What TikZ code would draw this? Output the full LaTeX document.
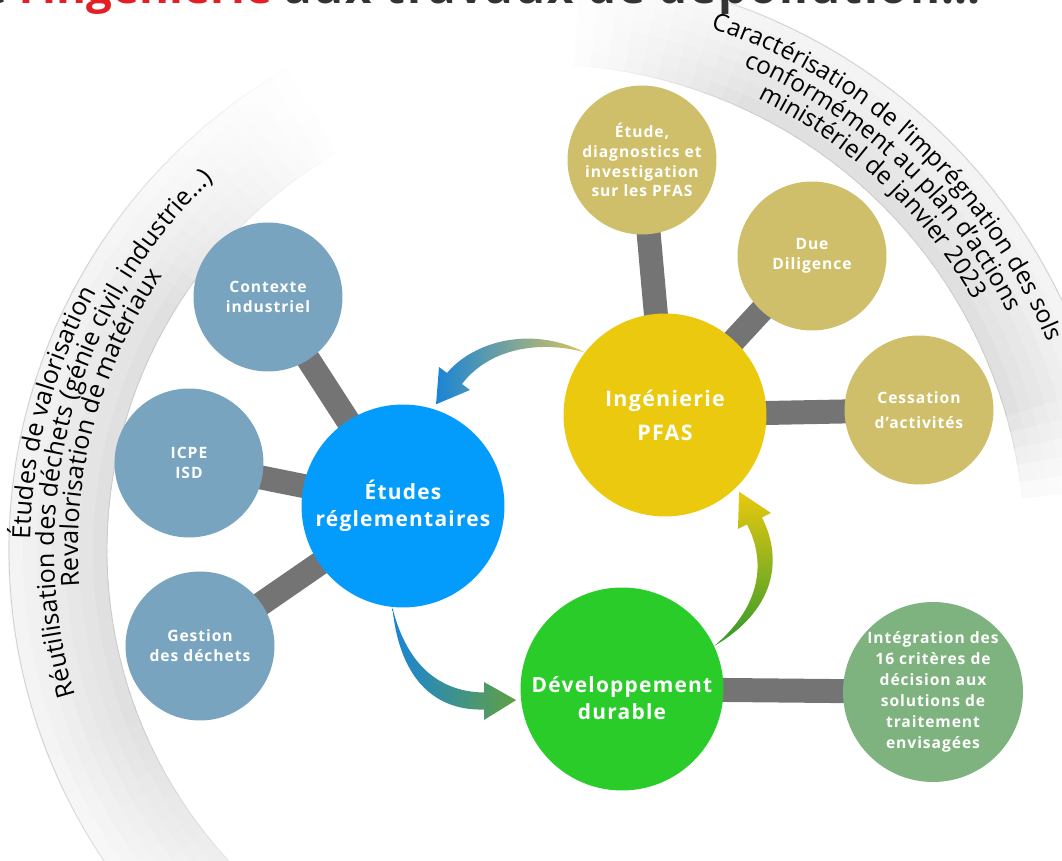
\documentclass[tikz,border=0pt]{standalone}
\usepackage{fontspec}
\setmainfont{Open Sans}
\newfontfamily\nodefont[LetterSpace=6]{Open Sans}
\newfontfamily\titlefont[LetterSpace=4]{Open Sans}
\usetikzlibrary{
    calc,              % Coordinate calculations
    backgrounds,       % Background layers
    decorations.text   % Text along the curved bands
}

\definecolor{bigblue}{RGB}{4,156,252}
\definecolor{bigyellow}{RGB}{235,201,14}
\definecolor{biggreen}{RGB}{42,204,42}
\definecolor{smallblue}{RGB}{120,164,191}
\definecolor{smallgold}{RGB}{208,191,106}
\definecolor{smallgreen}{RGB}{126,178,126}
\definecolor{bargrey}{RGB}{116,116,116}
\definecolor{titlered}{RGB}{227,30,36}
\definecolor{titledark}{RGB}{51,51,51}
\definecolor{arrblue}{RGB}{26,132,214}
\definecolor{arrkhaki}{RGB}{216,196,94}
\definecolor{arrgreen}{RGB}{96,160,68}
\definecolor{arrgreendark}{RGB}{46,154,46}

\newcommand\bandfont{\fontsize{14.3}{16}\selectfont}
\newcommand\bandfontright{\fontsize{13.9}{16}\selectfont}

\begin{document}
\begin{tikzpicture}[x=0.02cm, y=0.02cm,
    bignode/.style={circle, minimum size=4.06cm, inner sep=0pt, align=center,
        text=white, font=\nodefont\bfseries\fontsize{11.9}{15.6}\selectfont},
    smallnode/.style={circle, minimum size=2.98cm, inner sep=0pt, align=center,
        text=white, font=\nodefont\bfseries\fontsize{8.9}{11.3}\selectfont},
    bar/.style={line width=0.48cm, bargrey},
    bandtext/.style={decorate, decoration={text along path, text align=center,
        text={|\bandfont|#1}}},
    rbandtext/.style={decorate, decoration={text along path, text align=center,
        text={|\bandfontright|#1}}}
]
    \useasboundingbox (0,0) rectangle (1062,861);

    \node[anchor=base west, inner sep=0pt, text=titledark,
        font=\bfseries\fontsize{26}{30}\selectfont] (title) at (-54,857)
        {De \textcolor{titlered}{l’ingénierie} {\titlefont aux travaux de dépollution…}};

    \node[bignode, fill=bigblue] (etu) at (403,355) {Études\\réglementaires};
    \node[bignode, fill=bigyellow,
        font=\nodefont\bfseries\fontsize{12.2}{19.3}\selectfont] (ing) at (665,446) {Ingénierie\\PFAS};
    \node[bignode, fill=biggreen, text height=35pt] (dev) at (622,172) {Développement\\durable};

    \node[smallnode, fill=smallblue] (ctx) at (268,564) {Contexte\\industriel};
    \node[smallnode, fill=smallblue] (icpe) at (189,398) {ICPE\\ISD};
    \node[smallnode, fill=smallblue] (gest) at (200,215) {Gestion\\des déchets};
    \node[smallnode, fill=smallgold] (diag) at (642,701) {Étude,\\diagnostics et\\investigation\\sur les PFAS};
    \node[smallnode, fill=smallgold] (due) at (812,605) {Due\\Diligence};
    \node[smallnode, fill=smallgold,
        font=\nodefont\bfseries\fontsize{8.9}{14.2}\selectfont] (cess) at (919,451) {Cessation\\d’activités};
    \node[smallnode, fill=smallgreen, minimum size=3.6cm,
        font=\nodefont\bfseries\fontsize{8.9}{11.9}\selectfont] (integ) at (933,169)
        {Intégration des\\16 critères de\\décision aux\\solutions de\\traitement\\envisagées};

    \coordinate (lc) at (565,311);
    \coordinate (rc) at (540,312);

    \path[bandtext={Études de valorisation}] ($(lc)+(215:535)$) arc[start angle=215, end angle=115, radius=535];
    \path[bandtext={Réutilisation des déchets (génie civil, industrie…)}] ($(lc)+(215:511)$) arc[start angle=215, end angle=115, radius=511];
    \path[bandtext={Revalorisation de matériaux}] ($(lc)+(215:487)$) arc[start angle=215, end angle=115, radius=487];

    \path[rbandtext={Caractérisation de l’imprégnation des sols}] ($(rc)+(95:548)$) arc[start angle=95, end angle=-1, radius=548];
    \path[rbandtext={conformément au plan d’actions}] ($(rc)+(95:524)$) arc[start angle=95, end angle=-1, radius=524];
    \path[rbandtext={ministériel de janvier 2023}] ($(rc)+(95:500)$) arc[start angle=95, end angle=-1, radius=500];

    \coordinate (a1s) at (ing.142);
    \coordinate (a1t) at ($(etu.center)!1.05!(etu.72)$);
    \shade[left color=arrblue, right color=arrkhaki] (a1s) .. controls (530,536) and (473,519) .. (447,488)
        -- (439,494) -- (a1t) -- (470,471) -- (462,477) .. controls (487,510) and (535,522) .. (a1s) -- cycle;

    \coordinate (a2s) at (etu.264);
    \coordinate (a2t) at ($(dev.center)!1.045!(dev.186)$);
    \shade[left color=arrblue, right color=arrgreen] (a2s) .. controls (408,190) and (445,169) .. (484,168.5)
        -- (484,179) -- (a2t) -- (484,141) -- (484,151.5) .. controls (440,150) and (400,176) .. (a2s) -- cycle;

    \coordinate (a3s) at (dev.25);
    \coordinate (a3t) at ($(ing.center)!1.047!(ing.314)$);
    \shade[bottom color=arrgreendark, top color=bigyellow] (a3s) .. controls (758,252) and (768,296) .. (747,336.5)
        -- (738,332) -- (a3t) -- (771,348) -- (762,343.5) .. controls (784,300) and (774,250) .. (a3s) -- cycle;

    \begin{scope}[on background layer]
        \foreach \ang in {118,120,...,232}{
            \pgfmathsetmacro\fd{max(0,min(1,(\ang-118)/30,1-(\ang-200)/45))}
            \pgfmathsetmacro\angb{\ang+2.4}
            \foreach \i in {0,...,6}{
                \pgfmathsetmacro\rin{458+\i*14}
                \pgfmathsetmacro\rout{\rin+15}
                \pgfmathsetmacro\shd{(12-1.3*\i)*\fd}
                \fill[black!\shd] ($(lc)+(\ang:\rin)$) arc[start angle=\ang, end angle=\angb, radius=\rin]
                    -- ($(lc)+(\angb:\rout)$) arc[start angle=\angb, end angle=\ang, radius=\rout] -- cycle;
            }
            \pgfmathsetmacro\edg{20*\fd}
            \draw[black!\edg, line width=0.5pt] ($(lc)+(\ang:458)$) arc[start angle=\ang, end angle=\angb, radius=458];
            \draw[black!\edg, line width=0.4pt] ($(lc)+(\ang:556)$) arc[start angle=\ang, end angle=\angb, radius=556];
        }
        \foreach \ang in {4,6,...,86}{
            \pgfmathsetmacro\fd{max(0,min(1,(\ang-4)/12,(86-\ang)/22))}
            \pgfmathsetmacro\angb{\ang+2.4}
            \foreach \i in {0,...,6}{
                \pgfmathsetmacro\rin{485+\i*13.3}
                \pgfmathsetmacro\rout{\rin+14.3}
                \pgfmathsetmacro\shd{(12-1.3*\i)*\fd}
                \fill[black!\shd] ($(rc)+(\ang:\rin)$) arc[start angle=\ang, end angle=\angb, radius=\rin]
                    -- ($(rc)+(\angb:\rout)$) arc[start angle=\angb, end angle=\ang, radius=\rout] -- cycle;
            }
            \pgfmathsetmacro\edg{20*\fd}
            \draw[black!\edg, line width=0.5pt] ($(rc)+(\ang:485)$) arc[start angle=\ang, end angle=\angb, radius=485];
            \draw[black!\edg, line width=0.4pt] ($(rc)+(\ang:578)$) arc[start angle=\ang, end angle=\angb, radius=578];
        }

        \draw[bar] (etu.center) -- (ctx.center);
        \draw[bar] (etu.center) -- (icpe.center);
        \draw[bar] (etu.center) -- (gest.center);
        \draw[bar] (ing.center) -- (diag.center);
        \draw[bar] (ing.center) -- (due.center);
        \draw[bar] (ing.center) -- (cess.center);
        \draw[bar] (dev.center) -- (integ.center);
    \end{scope}
\end{tikzpicture}
\end{document}
